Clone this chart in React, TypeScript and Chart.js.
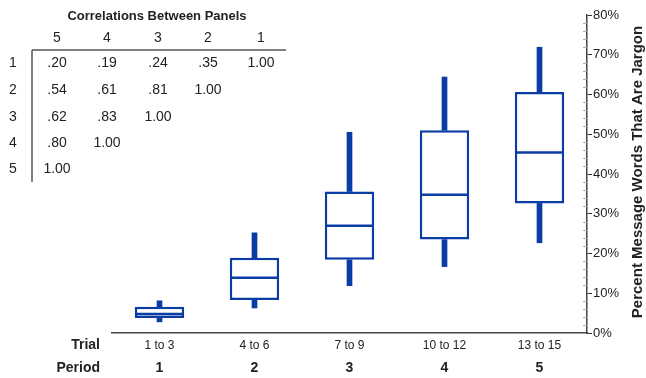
import React, { useEffect, useRef } from "react";
import { Chart, registerables } from "chart.js";

Chart.register(...registerables);

const trialLabels = ["1 to 3", "4 to 6", "7 to 9", "10 to 12", "13 to 15"];
const periodLabels = ["1", "2", "3", "4", "5"];

const whiskerLow = [2.8, 6.3, 11.9, 16.7, 22.7];
const quartile1 = [3.8, 8.3, 18.4, 23.5, 32.6];
const medians = [4.8, 13.9, 27.0, 34.8, 45.4];
const quartile3 = [6.6, 18.9, 35.6, 51.0, 60.6];
const whiskerHigh = [8.1, 25.2, 50.5, 64.4, 71.9];

const yTicks = [0, 10, 20, 30, 40, 50, 60, 70, 80];

const tableTitle = "Correlations Between Panels";
const tableColumns = ["5", "4", "3", "2", "1"];
const tableRowLabels = ["1", "2", "3", "4", "5"];
const tableRows = [
  [".20", ".19", ".24", ".35", "1.00"],
  [".54", ".61", ".81", "1.00"],
  [".62", ".83", "1.00"],
  [".80", "1.00"],
  ["1.00"],
];

const yTitle = "Percent Message Words That Are Jargon";
const rowTitles = ["Trial", "Period"];

const BLUE = "#0a3ca6";
const FONT = "'Liberation Sans', Arial, sans-serif";
const TEXT = "#222";

const overlayPlugin = {
  id: "overlay",
  afterDatasetsDraw(chart: any) {
    // median lines across each box
    const ctx = chart.ctx;
    const y = chart.scales.y;
    const meta = chart.getDatasetMeta(2);
    ctx.save();
    ctx.strokeStyle = BLUE;
    ctx.lineWidth = 2.5;
    meta.data.forEach((bar: any, i: number) => {
      const py = y.getPixelForValue(medians[i]);
      const half = bar.width / 2;
      ctx.beginPath();
      ctx.moveTo(bar.x - half + 1, py);
      ctx.lineTo(bar.x + half - 1, py);
      ctx.stroke();
    });
    ctx.restore();
  },
  afterDraw(chart: any) {
    const ctx = chart.ctx;
    const y = chart.scales.y;
    const x = chart.scales.x;
    const x2 = chart.scales.x2;
    ctx.save();

    // minor ticks on y axis
    ctx.strokeStyle = "#aaa";
    ctx.lineWidth = 1;
    const axisX = chart.chartArea.right;
    for (let v = 0; v <= 80; v += 2) {
      if (v % 10 === 0) continue;
      const py = Math.round(y.getPixelForValue(v)) + 0.5;
      ctx.beginPath();
      ctx.moveTo(axisX - 4, py);
      ctx.lineTo(axisX, py);
      ctx.stroke();
    }

    // y title rotated
    ctx.fillStyle = TEXT;
    ctx.font = `bold 15px ${FONT}`;
    ctx.textAlign = "center";
    ctx.textBaseline = "middle";
    ctx.save();
    ctx.translate(638, 172);
    ctx.rotate(-Math.PI / 2);
    ctx.fillText(yTitle, 0, 0);
    ctx.restore();

    // row titles
    ctx.textAlign = "right";
    ctx.font = `bold 14px ${FONT}`;
    ctx.fillText(rowTitles[0], 100, x.top + 12);
    ctx.fillText(rowTitles[1], 100, x2.top + 13);

    // correlation table
    const colX = [57, 107, 158, 208, 261];
    const rowY = [63, 90, 117, 143, 169];
    ctx.textAlign = "center";
    ctx.font = `bold 13px ${FONT}`;
    ctx.fillText(tableTitle, 157, 16);
    ctx.font = `14px ${FONT}`;
    tableColumns.forEach((c, i) => ctx.fillText(c, colX[i], 38));
    tableRowLabels.forEach((r, i) => ctx.fillText(r, 13, rowY[i]));
    tableRows.forEach((row, i) =>
      row.forEach((val, j) => ctx.fillText(val, colX[j], rowY[i]))
    );
    ctx.strokeStyle = "#555";
    ctx.lineWidth = 1.5;
    ctx.beginPath();
    ctx.moveTo(32, 50);
    ctx.lineTo(286, 50);
    ctx.moveTo(32, 50);
    ctx.lineTo(32, 182);
    ctx.stroke();

    ctx.restore();
  },
};

export default function App() {
  const ref = useRef<HTMLCanvasElement | null>(null);

  useEffect(() => {
    if (!ref.current) return;
    const boxes = trialLabels.map((_, i) => [quartile1[i], quartile3[i]]);
    const lowWhisk = trialLabels.map((_, i) => [whiskerLow[i], quartile1[i]]);
    const highWhisk = trialLabels.map((_, i) => [quartile3[i], whiskerHigh[i]]);

    const whiskCommon = {
      backgroundColor: BLUE,
      borderWidth: 0,
      grouped: false,
      barThickness: 5,
      xAxisID: "x",
    };

    const chart = new Chart(ref.current, {
      type: "bar",
      data: {
        labels: trialLabels,
        datasets: [
          { label: "low", data: lowWhisk, ...whiskCommon },
          { label: "high", data: highWhisk, ...whiskCommon },
          {
            label: "box",
            data: boxes,
            backgroundColor: "#ffffff",
            borderColor: BLUE,
            borderWidth: 2.5,
            borderSkipped: false,
            grouped: false,
            barPercentage: 0.52,
            categoryPercentage: 1,
            xAxisID: "x",
          },
        ] as any,
      },
      options: {
        responsive: false,
        animation: false,
        devicePixelRatio: 1,
        layout: { padding: { left: 112, top: 15, right: 0, bottom: 0 } },
        plugins: {
          legend: { display: false },
          tooltip: { enabled: false },
        },
        scales: {
          x: {
            type: "category",
            position: "bottom",
            weight: 0,
            offset: true,
            grid: { display: false, drawTicks: false },
            border: { display: true, color: "#444", width: 1.5 },
            ticks: {
              color: TEXT,
              font: { family: FONT, size: 12 },
              padding: 5,
              maxRotation: 0,
              autoSkip: false,
            },
            afterFit: (s: any) => {
              s.height = 22;
            },
          },
          x2: {
            type: "category",
            position: "bottom",
            labels: periodLabels,
            weight: 1,
            offset: true,
            grid: { display: false, drawTicks: false },
            border: { display: false },
            ticks: {
              color: TEXT,
              font: { family: FONT, size: 14, weight: "bold" },
              padding: 5,
              maxRotation: 0,
              autoSkip: false,
            },
            afterFit: (s: any) => {
              s.height = 23;
            },
          },
          y: {
            position: "right",
            min: 0,
            max: 80,
            afterBuildTicks: (s: any) => {
              s.ticks = yTicks.map((v) => ({ value: v }));
            },
            grid: {
              drawOnChartArea: false,
              drawTicks: true,
              tickLength: 5,
              tickColor: "#333",
              tickWidth: 1,
            },
            border: { display: true, color: "#444", width: 1.5 },
            ticks: {
              color: TEXT,
              font: { family: FONT, size: 13 },
              padding: 1,
              callback: (v: any) => `${v}%`,
            },
            afterFit: (s: any) => {
              s.width = 59;
            },
          },
        },
      } as any,
      plugins: [overlayPlugin],
    });
    return () => chart.destroy();
  }, []);

  return (
    <div style={{ position: "absolute", left: 0, top: 0, width: 646, height: 378, background: "#fff" }}>
      <canvas ref={ref} width={646} height={378} />
    </div>
  );
}
